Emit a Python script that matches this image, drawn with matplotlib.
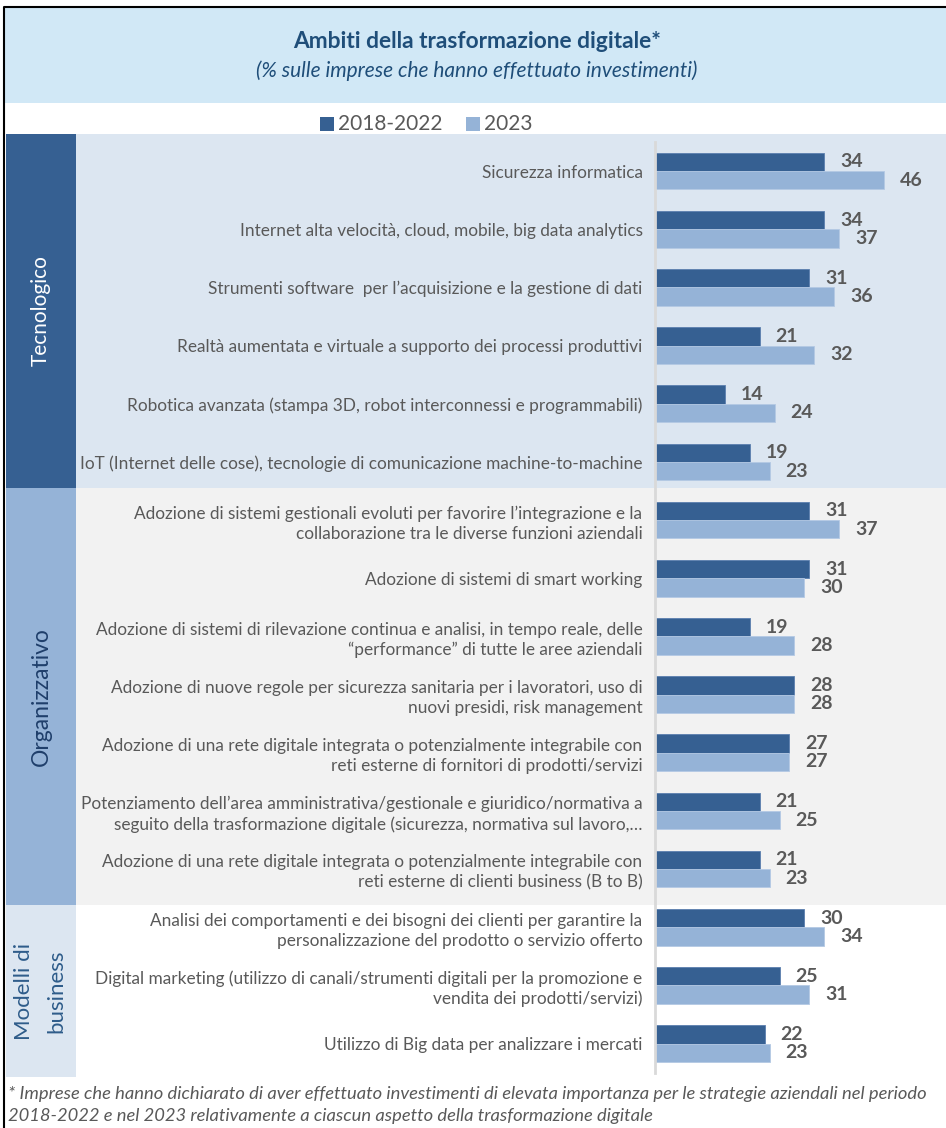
import matplotlib.pyplot as plt
from matplotlib.patches import Rectangle

plt.rcParams['font.family'] = ['Lato', 'DejaVu Sans']

# data
labels = [
    "Sicurezza informatica",
    "Internet alta velocità, cloud, mobile, big data analytics",
    "Strumenti software  per l’acquisizione e la gestione di dati",
    "Realtà aumentata e virtuale a supporto dei processi produttivi",
    "Robotica avanzata (stampa 3D, robot interconnessi e programmabili)",
    "IoT (Internet delle cose), tecnologie di comunicazione machine-to-machine",
    "Adozione di sistemi gestionali evoluti per favorire l’integrazione e la\ncollaborazione tra le diverse funzioni aziendali",
    "Adozione di sistemi di smart working",
    "Adozione di sistemi di rilevazione continua e analisi, in tempo reale, delle\n“performance” di tutte le aree aziendali",
    "Adozione di nuove regole per sicurezza sanitaria per i lavoratori, uso di\nnuovi presidi, risk management",
    "Adozione di una rete digitale integrata o potenzialmente integrabile con\nreti esterne di fornitori di prodotti/servizi",
    "Potenziamento dell’area amministrativa/gestionale e giuridico/normativa a\nseguito della trasformazione digitale (sicurezza, normativa sul lavoro,…",
    "Adozione di una rete digitale integrata o potenzialmente integrabile con\nreti esterne di clienti business (B to B)",
    "Analisi dei comportamenti e dei bisogni dei clienti per garantire la\npersonalizzazione del prodotto o servizio offerto",
    "Digital marketing (utilizzo di canali/strumenti digitali per la promozione e\nvendita dei prodotti/servizi)",
    "Utilizzo di Big data per analizzare i mercati",
]
v2018_2022 = [34, 34, 31, 21, 14, 19, 31, 31, 19, 28, 27, 21, 21, 30, 25, 22]
v2023 = [46, 37, 36, 32, 24, 23, 37, 30, 28, 28, 27, 25, 23, 34, 31, 23]
series_names = ["2018-2022", "2023"]

groups = ["Tecnologico", "Organizzativo", "Modelli di\nbusiness"]

title = "Ambiti della trasformazione digitale*"
subtitle = "(% sulle imprese che hanno effettuato investimenti)"
footnote = ("* Imprese che hanno dichiarato di aver effettuato investimenti di elevata importanza per le strategie aziendali nel periodo\n"
            "2018-2022 e nel 2023 relativamente a ciascun aspetto della trasformazione digitale")

# style
DARK = '#366092'
LIGHT = '#95B3D7'
GREY = '#595959'
NAVY = '#1F4E79'
group_bounds = [(134, 488), (488, 905), (905, 1077)]
group_col = ['#366092', '#95B3D7', '#DCE6F1']
group_panel = ['#DCE6F1', '#F2F2F2', '#FFFFFF']
group_txt = ['white', '#1F3F6B', '#2E5C8A']
group_fs = [15, 16.5, 16]
group_tx = [41, 41, 40]

W, H = 946, 1128
fig = plt.figure(figsize=(W / 100, H / 100), dpi=100)

bg = fig.add_axes([0, 0, 1, 1])
bg.set_xlim(0, W)
bg.set_ylim(H, 0)
bg.axis('off')

# header
bg.add_patch(Rectangle((4, 7), W, 96, color='#D1E8F6', lw=0))
bg.plot([3.5, 3.5, W], [H, 6.5, 6.5], color='black', lw=1.5)
bg.text(477, 41, title, ha='center', va='center', fontsize=16.4,
        fontweight='bold', color=NAVY)
bg.text(477, 71, subtitle, ha='center', va='center', fontsize=15,
        style='italic', color=NAVY)

# legend
for x0, c, name in [(320, DARK, series_names[0]), (466, LIGHT, series_names[1])]:
    bg.add_patch(Rectangle((x0, 117), 14, 14, color=c, lw=0))
    bg.text(x0 + 18, 124, name, ha='left', va='center', fontsize=15, color=GREY)

# group bands
for i, ((y0, y1), g) in enumerate(zip(group_bounds, groups)):
    bg.add_patch(Rectangle((76, y0), W - 76, y1 - y0, color=group_panel[i], lw=0))
    bg.add_patch(Rectangle((6, y0), 70, y1 - y0, color=group_col[i], lw=0))
    bg.text(group_tx[i], (y0 + y1) / 2, g, rotation=90, ha='center', va='center',
            fontsize=group_fs[i], color=group_txt[i], linespacing=1.75)

bg.text(8, 1105, footnote, ha='left', va='center', fontsize=13.2, style='italic',
        color=GREY, linespacing=1.5)

# bars
px_unit = 4.98
ax = fig.add_axes([655 / W, (H - 1072.6) / H, (W - 655) / W, 930.6 / H])
ax.patch.set_visible(False)
n = len(labels)
ys = list(range(n))
h = 0.315
ax.barh([y - h / 2 for y in ys], v2018_2022, height=h, color=DARK,
        edgecolor='#5B7FAE', lw=0.6)
ax.barh([y + h / 2 for y in ys], v2023, height=h, color=LIGHT,
        edgecolor='#B4C9E4', lw=0.6)
for y, a, b in zip(ys, v2018_2022, v2023):
    ax.annotate(str(a), (a, y - h / 2), xytext=(11.5, 0), textcoords='offset points',
                ha='left', va='center', fontsize=14, fontweight='bold', color=GREY)
    ax.annotate(str(b), (b, y + h / 2), xytext=(11.5, 0), textcoords='offset points',
                ha='left', va='center', fontsize=14, fontweight='bold', color=GREY)

ax.set_xlim(0, (W - 655) / px_unit)
ax.set_ylim(n - 0.5, -0.5)
ax.set_xticks([])
ax.set_yticks(ys)
ax.set_yticklabels(labels, fontsize=12.4, color=GREY, linespacing=1.3)
ax.tick_params(axis='y', length=0, pad=9)
for s in ['top', 'right', 'bottom']:
    ax.spines[s].set_visible(False)
ax.spines['left'].set_color('#D9D9D9')
ax.spines['left'].set_linewidth(2)

fig.savefig('out.png', dpi=100)
